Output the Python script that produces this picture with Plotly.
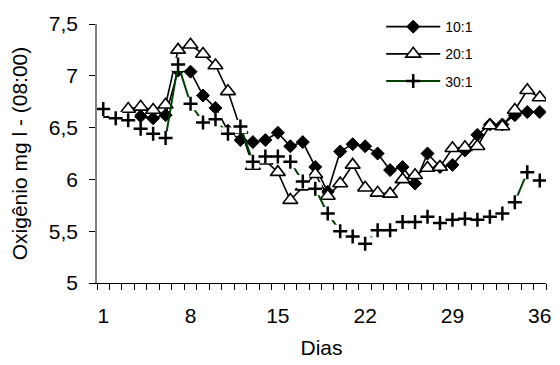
import plotly.graph_objects as go

days = list(range(1, 37))
series_names = ["10:1", "20:1", "30:1"]
ratio_10 = [6.60, 6.60, 6.60, 6.61, 6.59, 6.62, 7.05, 7.04, 6.81, 6.69,
            6.47, 6.38, 6.36, 6.38, 6.45, 6.32, 6.36, 6.12, 5.88, 6.27,
            6.34, 6.32, 6.25, 6.09, 6.12, 5.96, 6.25, 6.12, 6.14, 6.28,
            6.43, 6.53, 6.53, 6.62, 6.65, 6.65]
ratio_20 = [6.60, 6.62, 6.68, 6.70, 6.67, 6.72, 7.25, 7.30, 7.21, 7.10,
            6.85, 6.48, 6.13, 6.18, 6.07, 5.80, 5.93, 6.05, 5.84, 5.96,
            6.14, 5.92, 5.87, 5.86, 6.00, 6.04, 6.11, 6.12, 6.30, 6.31,
            6.32, 6.52, 6.51, 6.67, 6.86, 6.79]
ratio_30 = [6.68, 6.59, 6.57, 6.49, 6.44, 6.40, 7.11, 6.73, 6.55, 6.58,
            6.44, 6.51, 6.17, 6.22, 6.22, 6.17, 5.98, 5.91, 5.67, 5.50,
            5.45, 5.38, 5.51, 5.51, 5.59, 5.59, 5.64, 5.58, 5.61, 5.62,
            5.61, 5.64, 5.67, 5.78, 6.07, 5.99]
y_tick_vals = [5, 5.5, 6, 6.5, 7, 7.5]
y_tick_text = ["5", "5,5", "6", "6,5", "7", "7,5"]
x_tick_vals = [1, 8, 15, 22, 29, 36]

# first day on which each series' marker is visible in the original figure
first_marker_day_10 = 4
first_marker_day_20 = 3

FONT = "Arial, Liberation Sans, sans-serif"
GREEN = "#004000"
SIZE_DIAMOND = 10
SIZE_TRIANGLE = 13

sizes_10 = [SIZE_DIAMOND if d >= first_marker_day_10 else 0 for d in days]
sizes_20 = [SIZE_TRIANGLE if d >= first_marker_day_20 else 0 for d in days]

fig = go.Figure()
# 10:1
fig.add_trace(go.Scatter(x=days, y=ratio_10, mode="lines+markers", showlegend=False,
                         line=dict(color="black", width=1.6),
                         marker=dict(symbol="diamond", size=sizes_10, color="black", opacity=1,
                                     line=dict(color="black", width=1))))
# 20:1
fig.add_trace(go.Scatter(x=days, y=ratio_20, mode="lines+markers", showlegend=False,
                         line=dict(color="black", width=1.6),
                         marker=dict(symbol="triangle-up", size=sizes_20, color="white", opacity=1,
                                     line=dict(color="black", width=1.6))))
# 30:1 line
fig.add_trace(go.Scatter(x=days, y=ratio_30, mode="lines", showlegend=False,
                         line=dict(color=GREEN, width=2)))
# 30:1 white marker backgrounds
fig.add_trace(go.Scatter(x=days, y=ratio_30, mode="markers", showlegend=False,
                         marker=dict(symbol="square", size=13, color="white",
                                     line=dict(width=0))))
# 30:1 crosses
fig.add_trace(go.Scatter(x=days, y=ratio_30, mode="markers", showlegend=False,
                         marker=dict(symbol="cross-thin", size=10,
                                     line=dict(color="black", width=2.5))))

# legend entries
legend_styles = [
    dict(line=dict(color="black", width=1.6),
         marker=dict(symbol="diamond", size=SIZE_DIAMOND, color="black",
                     line=dict(color="black", width=1))),
    dict(line=dict(color="black", width=1.6),
         marker=dict(symbol="triangle-up", size=SIZE_TRIANGLE, color="white",
                     line=dict(color="black", width=1.6))),
    dict(line=dict(color=GREEN, width=2),
         marker=dict(symbol="cross-thin", size=10, line=dict(color="black", width=2.5))),
]
for name, st in zip(series_names, legend_styles):
    fig.add_trace(go.Scatter(x=[None], y=[None], mode="lines+markers", name=name,
                             legendgroup=name, **st))

fig.update_layout(
    width=560, height=365,
    margin=dict(l=97, r=9, t=24, b=82),
    paper_bgcolor="white", plot_bgcolor="white",
    font=dict(family=FONT, size=21, color="black"),
    showlegend=True,
    legend=dict(x=0.633, y=1.05, xanchor="left", yanchor="top",
                font=dict(size=14), bgcolor="rgba(0,0,0,0)",
                itemwidth=54, tracegroupgap=6, traceorder="grouped"),
    xaxis=dict(range=[0.5, 36.5], tickvals=x_tick_vals, ticks="",
               showline=True, linecolor="black", linewidth=1,
               showgrid=False, zeroline=False, ticklabelstandoff=14,
               minor=dict(ticks="outside", tick0=0.5, dtick=1, ticklen=6,
                          tickcolor="black", tickwidth=1, showgrid=False),
               title=dict(text="Dias", font=dict(size=21), standoff=14)),
    yaxis=dict(range=[5, 7.5], tickvals=y_tick_vals, ticktext=y_tick_text,
               ticks="outside", ticklen=6, tickcolor="black",
               showline=True, linecolor="#808080", linewidth=1.5,
               showgrid=False, zeroline=False, ticklabelstandoff=7,
               title=dict(text="Oxigênio mg l - (08:00)", font=dict(size=21), standoff=15)),
)

fig.write_html("out.html")
